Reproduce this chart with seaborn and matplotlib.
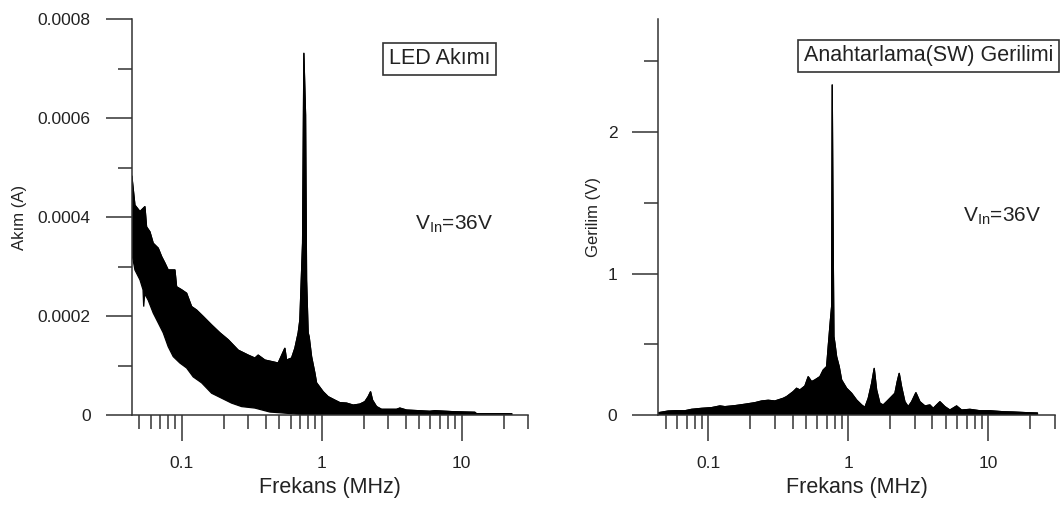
import numpy as np
import pandas as pd
import matplotlib
matplotlib.use("Agg")
import matplotlib.pyplot as plt
import seaborn as sns

# ---------------- data ----------------
# Left panel: LED current spectrum (A) vs frequency (MHz) - upper envelope
led_freq_upper = [0.0441, 0.0464, 0.0504, 0.0547, 0.0562, 0.0594, 0.0627, 0.0681, 0.0720,
                  0.0760, 0.0802, 0.0896, 0.0921, 0.100, 0.1086, 0.1179, 0.1280, 0.1427,
                  0.1638, 0.1878, 0.2153, 0.2537, 0.2990, 0.334, 0.3525, 0.3936, 0.4394,
                  0.4898, 0.5468, 0.5623, 0.6105, 0.6447, 0.6808, 0.6998, 0.7316, 0.7474,
                  0.7686, 0.7814, 0.8022, 0.8154, 0.8484, 0.8956, 0.921, 1.027, 1.115,
                  1.245, 1.351, 1.509, 1.682, 1.877, 2.039, 2.152, 2.239, 2.314, 2.471,
                  2.683, 3.433, 3.625, 4.047, 5.936, 6.447, 8.71, 12.45, 12.8, 20.4, 22.9]
led_amp_upper = [4.83e-4, 4.24e-4, 4.11e-4, 4.21e-4, 3.80e-4, 3.70e-4, 3.47e-4, 3.37e-4, 3.20e-4,
                 3.07e-4, 2.93e-4, 2.93e-4, 2.59e-4, 2.53e-4, 2.46e-4, 2.19e-4, 2.12e-4, 1.99e-4,
                 1.82e-4, 1.66e-4, 1.52e-4, 1.31e-4, 1.21e-4, 1.15e-4, 1.21e-4, 1.11e-4, 1.08e-4,
                 1.05e-4, 1.35e-4, 1.11e-4, 1.15e-4, 1.35e-4, 1.66e-4, 1.92e-4, 3.47e-4, 7.31e-4,
                 6.06e-4, 2.73e-4, 1.66e-4, 1.58e-4, 1.18e-4, 8.5e-5, 6.5e-5, 4.7e-5, 3.7e-5,
                 3.0e-5, 2.5e-5, 2.4e-5, 2.0e-5, 2.2e-5, 2.7e-5, 3.7e-5, 4.7e-5, 3.0e-5, 1.7e-5,
                 1.15e-5, 1.15e-5, 1.4e-5, 1.0e-5, 7.5e-6, 8.7e-6, 6.7e-6, 5.5e-6, 2.6e-6, 2.6e-6, 2.4e-6]
# Left panel - lower envelope
led_freq_lower = [0.0441, 0.0464, 0.0504, 0.0530, 0.0536, 0.0545, 0.0577, 0.0627, 0.0681,
                  0.0739, 0.0802, 0.0871, 0.0972, 0.1086, 0.121, 0.139, 0.1638, 0.193,
                  0.2276, 0.2683, 0.334, 0.427, 0.594, 0.80, 22.9]
led_amp_lower = [3.27e-4, 2.93e-4, 2.73e-4, 2.53e-4, 2.19e-4, 2.45e-4, 2.32e-4, 2.06e-4, 1.86e-4,
                 1.66e-4, 1.38e-4, 1.18e-4, 1.05e-4, 9.5e-5, 7.7e-5, 6.5e-5, 4.4e-5, 3.4e-5,
                 2.4e-5, 1.7e-5, 1.4e-5, 6e-6, 3e-6, 0.0, 0.0]

# Right panel: switching-node voltage spectrum (V) - upper envelope (lower edge is 0)
sw_freq_upper = [0.0440, 0.0518, 0.0578, 0.0682, 0.0761, 0.0897, 0.1057, 0.1212, 0.1316,
                 0.1551, 0.1829, 0.2156, 0.2406, 0.2683, 0.2995, 0.3433, 0.3631, 0.4046,
                 0.4279, 0.4519, 0.4905, 0.5179, 0.5477, 0.5782, 0.6279, 0.6628, 0.7011,
                 0.7197, 0.7463, 0.7612, 0.7688, 0.7816, 0.7906, 0.8036, 0.8262, 0.8624,
                 0.8972, 0.974, 1.057, 1.148, 1.247, 1.316, 1.39, 1.47, 1.534, 1.596, 1.684,
                 1.778, 1.880, 2.042, 2.156, 2.239, 2.314, 2.406, 2.541, 2.683, 2.838, 3.045,
                 3.252, 3.531, 3.833, 4.047, 4.279, 4.519, 4.905, 5.326, 5.946, 6.457, 7.40,
                 8.72, 10.28, 12.80, 15.09, 19.21, 22.5]
sw_amp_upper = [0.016, 0.028, 0.030, 0.030, 0.040, 0.047, 0.052, 0.064, 0.059,
                0.066, 0.076, 0.087, 0.099, 0.104, 0.099, 0.118, 0.130, 0.165,
                0.189, 0.177, 0.205, 0.271, 0.236, 0.248, 0.271, 0.318, 0.342,
                0.483, 0.672, 0.766, 2.335, 1.168, 0.554, 0.507, 0.413, 0.342,
                0.248, 0.189, 0.154, 0.106, 0.071, 0.054, 0.118, 0.224, 0.330, 0.177, 0.083,
                0.071, 0.094, 0.130, 0.154, 0.236, 0.295, 0.200, 0.094, 0.059, 0.094, 0.158,
                0.094, 0.064, 0.071, 0.047, 0.071, 0.094, 0.059, 0.035, 0.064, 0.035, 0.040,
                0.030, 0.030, 0.023, 0.021, 0.016, 0.014]

# axis ticks / labels
x_major = [0.1, 1, 10]
x_major_labels = ["0.1", "1", "10"]
x_minor = [0.05, 0.06, 0.07, 0.08, 0.09, 0.2, 0.3, 0.4, 0.5, 0.6, 0.7, 0.8, 0.9,
           2, 3, 4, 5, 6, 7, 8, 9, 20, 30]
led_y_major = [0, 0.0002, 0.0004, 0.0006, 0.0008]
led_y_labels = ["0", "0.0002", "0.0004", "0.0006", "0.0008"]
led_y_minor = [0.0001, 0.0003, 0.0005, 0.0007]
sw_y_major = [0, 1, 2]
sw_y_labels = ["0", "1", "2"]
sw_y_minor = [0.5, 1.5, 2.5]

# ---------------- style ----------------
sns.set_theme(style="ticks")
plt.rcParams["font.family"] = ["Liberation Sans", "DejaVu Sans"]
plt.rcParams["mathtext.fontset"] = "custom"
plt.rcParams["mathtext.rm"] = "Liberation Sans"
plt.rcParams["mathtext.it"] = "Liberation Sans"

TXT = "#222222"
AX = "#333333"

fig = plt.figure(figsize=(10.63, 5.05), dpi=100)
W, H = 1063.0, 505.0

ax1 = fig.add_axes([131.7 / W, 90 / H, 396.6 / W, 396 / H])
ax2 = fig.add_axes([658.3 / W, 90 / H, 396.7 / W, 396 / H])

# left: polygon between envelopes
led_up = pd.DataFrame({"f": led_freq_upper, "a": led_amp_upper})
led_lo = pd.DataFrame({"f": led_freq_lower, "a": led_amp_lower})
poly_x = np.concatenate([led_up["f"].values, led_lo["f"].values[::-1]])
poly_y = np.concatenate([led_up["a"].values, led_lo["a"].values[::-1]])
ax1.fill(poly_x, poly_y, color="black", lw=0.9, zorder=2)
sns.lineplot(data=led_up, x="f", y="a", ax=ax1, color="black", lw=0.9,
             estimator=None, sort=False, zorder=3)

sw_up = pd.DataFrame({"f": sw_freq_upper, "a": sw_amp_upper})
px = np.concatenate([sw_up["f"].values, [sw_freq_upper[-1], sw_freq_upper[0]]])
py = np.concatenate([sw_up["a"].values, [0.0, 0.0]])
ax2.fill(px, py, color="black", lw=0.9, zorder=2)
sns.lineplot(data=sw_up, x="f", y="a", ax=ax2, color="black", lw=0.9,
             estimator=None, sort=False, zorder=3)

for ax, ymaj, ylab, ymin, ylim in [
    (ax1, led_y_major, led_y_labels, led_y_minor, (0, 0.0008)),
    (ax2, sw_y_major, sw_y_labels, sw_y_minor, (0, 2.8)),
]:
    ax.set_xscale("log")
    ax.set_xlim(0.044, 30)
    ax.set_ylim(*ylim)
    ax.set_xticks(x_major, labels=x_major_labels)
    ax.set_xticks(x_minor, minor=True)
    ax.set_yticks(ymaj, labels=ylab)
    ax.set_yticks(ymin, minor=True)
    ax.set_yticklabels(ylab, minor=False)
    ax.xaxis.set_minor_formatter(matplotlib.ticker.NullFormatter())
    for s in ["top", "right"]:
        ax.spines[s].set_visible(False)
    for s in ["left", "bottom"]:
        ax.spines[s].set_color(AX)
        ax.spines[s].set_linewidth(1.1)
        ax.spines[s].set_zorder(4)
    ax.tick_params(which="major", length=19, width=1.1, color=AX, labelsize=12.5,
                   labelcolor=TXT, pad=10.5)
    ax.tick_params(which="minor", length=10, width=1.1, color=AX)
    ax.set_xlabel("Frekans (MHz)", fontsize=15.5, color=TXT, va="center")
    ax.xaxis.set_label_coords(0.5, -0.183)
    ax.set_ylabel("")
    ax.patch.set_alpha(0)
    ax.grid(False)

# y labels
fig.text(19.7 / W, 1 - 217.5 / H, "Akım (A)", rotation=90, ha="center", va="center",
         fontsize=12, color=TXT)
fig.text(593.8 / W, 1 - 217.5 / H, "Gerilim (V)", rotation=90, ha="center", va="center",
         fontsize=12, color=TXT)

# boxed titles
box = dict(boxstyle="square,pad=0.27", facecolor="white", edgecolor=AX, linewidth=1.2)
fig.text(439.2 / W, 1 - 59 / H, "LED Akımı", ha="center", va="center", fontsize=15.5,
         color=TXT, bbox=box)
fig.text(928.5 / W, 1 - 56 / H, "Anahtarlama(SW) Gerilimi", ha="center", va="center",
         fontsize=15.5, color=TXT, bbox=box)

# V_in annotations
fig.text(415 / W, 1 - 230 / H, r"V$_{\mathrm{In}}$=36V", ha="left", va="baseline",
         fontsize=15, color=TXT)
fig.text(962.8 / W, 1 - 221.7 / H, r"V$_{\mathrm{In}}$=36V", ha="left", va="baseline",
         fontsize=15, color=TXT)

fig.savefig("out.png", dpi=100)
